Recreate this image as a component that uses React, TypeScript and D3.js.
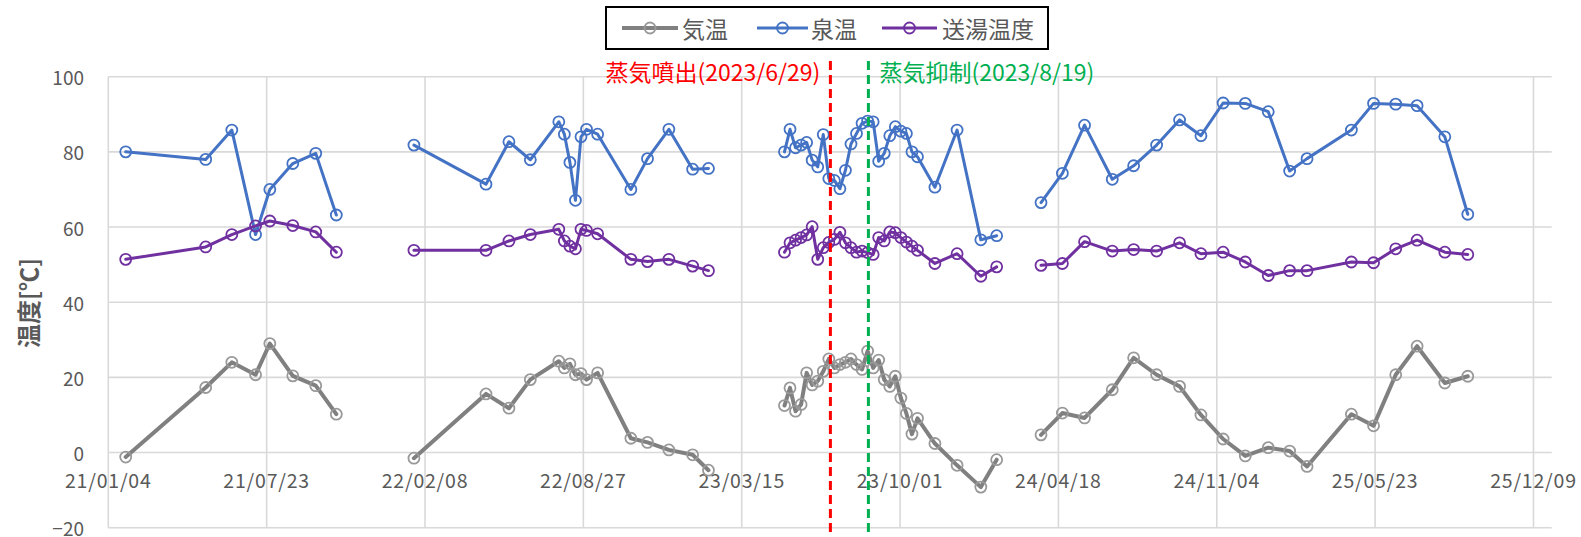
import React from "react";
import * as d3 from "d3";

// ---- data ----
// null rows break the line between measurement campaigns
const dates: (string | null)[] = [
  "2021-01-26", "2021-05-07", "2021-06-09", "2021-07-09", "2021-07-27", "2021-08-25", "2021-09-23", "2021-10-19",
  null,
  "2022-01-25", "2022-04-26", "2022-05-25", "2022-06-21", "2022-07-27", "2022-08-03", "2022-08-10", "2022-08-17",
  "2022-08-24", "2022-08-31", "2022-09-14", "2022-10-26", "2022-11-16", "2022-12-13", "2023-01-12", "2023-02-01",
  null,
  "2023-05-08", "2023-05-15", "2023-05-22", "2023-05-29", "2023-06-05", "2023-06-12", "2023-06-19", "2023-06-26",
  "2023-07-03", "2023-07-10", "2023-07-17", "2023-07-24", "2023-07-31", "2023-08-07", "2023-08-14", "2023-08-21",
  "2023-08-28", "2023-09-04", "2023-09-11", "2023-09-18", "2023-09-25", "2023-10-02", "2023-10-09", "2023-10-16",
  "2023-10-23", "2023-11-14", "2023-12-12", "2024-01-11", "2024-01-31",
  null,
  "2024-03-27", "2024-04-23", "2024-05-21", "2024-06-25", "2024-07-22", "2024-08-20", "2024-09-18", "2024-10-15",
  "2024-11-12", "2024-12-10", "2025-01-08", "2025-02-04", "2025-02-26", "2025-04-23", "2025-05-21", "2025-06-18",
  "2025-07-15", "2025-08-19", "2025-09-17",
];

// 気温
const airTemp: (number | null)[] = [
  -1.2, 17.3, 24.0, 20.7, 29.0, 20.4, 17.8, 10.2,
  null,
  -1.5, 15.6, 11.8, 19.4, 24.3, 22.5, 23.6, 20.7, 21.0, 19.4, 21.2, 3.8, 2.7, 0.7, -0.6, -4.7,
  null,
  12.5, 17.2, 11.0, 12.8, 21.2, 18.0, 19.0, 21.6, 24.9, 22.5, 23.4, 24.0, 24.9, 23.4, 22.1, 27.0,
  22.5, 24.6, 19.4, 17.6, 20.3, 14.5, 10.4, 4.9, 9.1, 2.4, -3.4, -9.2, -1.9,
  null,
  4.7, 10.5, 9.2, 16.7, 25.2, 20.7, 17.6, 10.0, 3.6, -0.9, 1.3, 0.4, -3.7, 10.2, 7.1, 20.7, 28.3, 18.5, 20.3,
];

// 泉温
const springTemp: (number | null)[] = [
  80.0, 78.0, 85.8, 58.0, 70.0, 76.9, 79.6, 63.2,
  null,
  81.8, 71.4, 82.7, 77.9, 88.0, 84.7, 77.2, 67.1, 84.0, 86.0, 84.7, 70.0, 78.2, 86.0, 75.4, 75.6,
  null,
  80.0, 86.0, 81.1, 81.8, 82.5, 77.8, 76.0, 84.6, 72.9, 72.4, 70.2, 75.1, 82.1, 84.9, 87.6, 88.2,
  88.0, 77.5, 79.6, 84.3, 86.7, 85.5, 84.9, 80.0, 78.7, 70.6, 85.8, 56.6, 57.7,
  null,
  66.5, 74.3, 87.1, 72.7, 76.3, 81.8, 88.5, 84.3, 93.0, 92.9, 90.7, 74.9, 78.2, 85.8, 92.9, 92.7, 92.3, 84.0, 63.4,
];

// 送湯温度
const supplyTemp: (number | null)[] = [
  51.4, 54.7, 58.0, 60.3, 61.6, 60.4, 58.7, 53.3,
  null,
  53.8, 53.8, 56.3, 58.0, 59.4, 56.3, 54.9, 54.2, 59.4, 59.1, 58.2, 51.4, 50.8, 51.4, 49.6, 48.4,
  null,
  53.3, 55.8, 56.5, 57.2, 57.9, 60.1, 51.4, 54.5, 55.9, 56.7, 58.6, 55.8, 54.5, 53.3, 53.6, 53.2,
  52.7, 57.2, 56.3, 58.7, 58.5, 57.2, 56.0, 54.9, 53.8, 50.3, 52.9, 46.9, 49.4,
  null,
  49.8, 50.3, 56.1, 53.6, 54.0, 53.6, 55.8, 52.9, 53.3, 50.7, 47.1, 48.4, 48.4, 50.7, 50.5, 54.2, 56.5, 53.3, 52.7,
];

const seriesNames = ["気温", "泉温", "送湯温度"];
const seriesColors = ["#808080", "#4472C4", "#7030A0"];

const xDomain = ["2021-01-04", "2026-01-01"];
const xTickDates = [
  "2021-01-04", "2021-07-23", "2022-02-08", "2022-08-27", "2023-03-15",
  "2023-10-01", "2024-04-18", "2024-11-04", "2025-05-23", "2025-12-09",
];
const xTickLabels = [
  "21/01/04", "21/07/23", "22/02/08", "22/08/27", "23/03/15",
  "23/10/01", "24/04/18", "24/11/04", "25/05/23", "25/12/09",
];
const yTicks = [-20, 0, 20, 40, 60, 80, 100];

// annotation lines (placed where the reference draws them)
const eventLabels = ["蒸気噴出(2023/6/29)", "蒸気抑制(2023/8/19)"];
const eventLineDates = ["2023-07-05", "2023-08-22"];
const eventColors = ["#FF0000", "#00B050"];

const W = 1581;
const H = 537;
const FONT = "'Noto Sans CJK JP', 'Noto Sans', sans-serif";

export default function App() {
  const parse = d3.utcParse("%Y-%m-%d");
  const x = d3
    .scaleUtc()
    .domain(xDomain.map((d) => parse(d) as Date))
    .range([108.3, 1551.7]);
  const y = d3.scaleLinear().domain([-20, 100]).range([527.7, 76.7]);

  const allSeries = [airTemp, springTemp, supplyTemp];
  const parsedDates = dates.map((d) => (d ? (parse(d) as Date) : null));

  const makePath = (vals: (number | null)[]) =>
    d3
      .line<number>()
      .defined((i) => vals[i] != null && parsedDates[i] != null)
      .x((i) => x(parsedDates[i] as Date))
      .y((i) => y(vals[i] as number))(d3.range(vals.length)) || "";

  const lineWidths = [4, 3, 3];
  const markerStroke = ["#999999", "#4472C4", "#7030A0"];

  const x0 = x.range()[0];
  const x1 = x.range()[1];

  const legendItems = [
    { lx1: 622, lx2: 678, tx: 682 },
    { lx1: 757, lx2: 808, tx: 811 },
    { lx1: 882, lx2: 937, tx: 942 },
  ];

  return (
    <svg
      width={W}
      height={H}
      style={{ position: "absolute", left: 0, top: 0, background: "#fff" }}
      fontFamily={FONT}
    >
      <rect x={0} y={0} width={W} height={H} fill="#fff" />
      {/* horizontal gridlines */}
      {yTicks.map((t) => (
        <line key={"h" + t} x1={x0} x2={x1} y1={y(t)} y2={y(t)} stroke="#d9d9d9" strokeWidth={1.6} />
      ))}
      {/* vertical gridlines */}
      {xTickDates.map((d) => {
        const xx = x(parse(d) as Date);
        return <line key={"v" + d} x1={xx} x2={xx} y1={y(100)} y2={y(-20)} stroke="#d9d9d9" strokeWidth={1.6} />;
      })}
      {/* y tick labels */}
      {yTicks.map((t) => (
        <text key={"yt" + t} x={84} y={y(t)} textAnchor="end" dominantBaseline="central" fontSize={19} fill="#595959">
          {t < 0 ? "\u2212" + Math.abs(t) : t}
        </text>
      ))}
      {/* x tick labels */}
      {xTickDates.map((d, i) => (
        <text key={"xt" + d} x={x(parse(d) as Date)} y={479} textAnchor="middle" dominantBaseline="central" fontSize={19.5} letterSpacing={0.8} fill="#595959">
          {xTickLabels[i]}
        </text>
      ))}
      {/* y axis title */}
      <text
        transform={`translate(27,303) rotate(-90)`}
        textAnchor="middle"
        dominantBaseline="central"
        fontSize={24}
        fontWeight="bold"
        fill="#595959"
      >
        温度[℃]
      </text>

      {/* series */}
      {allSeries.map((vals, si) => (
        <g key={"s" + si}>
          <path d={makePath(vals)} fill="none" stroke={seriesColors[si]} strokeWidth={lineWidths[si]} strokeLinejoin="round" strokeLinecap="round" />
          {vals.map((v, i) =>
            v == null || parsedDates[i] == null ? null : (
              <circle key={i} cx={x(parsedDates[i] as Date)} cy={y(v)} r={5.5} fill="none" stroke={markerStroke[si]} strokeWidth={1.8} />
            )
          )}
        </g>
      ))}

      {/* event lines */}
      {eventLineDates.map((d, i) => {
        const xx = x(parse(d) as Date);
        return (
          <line key={"e" + i} x1={xx} x2={xx} y1={61} y2={537} stroke={eventColors[i]} strokeWidth={3} strokeDasharray="9,5" />
        );
      })}
      {eventLabels.map((lab, i) => {
        const xx = x(parse(eventLineDates[i]) as Date);
        return (
          <text
            key={"el" + i}
            x={i === 0 ? xx - 10 : xx + 11}
            y={71}
            textAnchor={i === 0 ? "end" : "start"}
            dominantBaseline="central"
            fontSize={23}
            fill={eventColors[i]}
          >
            {lab}
          </text>
        );
      })}

      {/* legend */}
      <rect x={606} y={7} width={442} height={42} fill="#fff" stroke="#000" strokeWidth={2} />
      {legendItems.map((it, i) => (
        <g key={"lg" + i}>
          <line x1={it.lx1} x2={it.lx2} y1={28} y2={28} stroke={seriesColors[i]} strokeWidth={lineWidths[i]} />
          <circle cx={(it.lx1 + it.lx2) / 2} cy={28} r={5.5} fill="none" stroke={markerStroke[i]} strokeWidth={1.8} />
          <text x={it.tx} y={28} dominantBaseline="central" fontSize={23} fill="#595959">
            {seriesNames[i]}
          </text>
        </g>
      ))}
    </svg>
  );
}
